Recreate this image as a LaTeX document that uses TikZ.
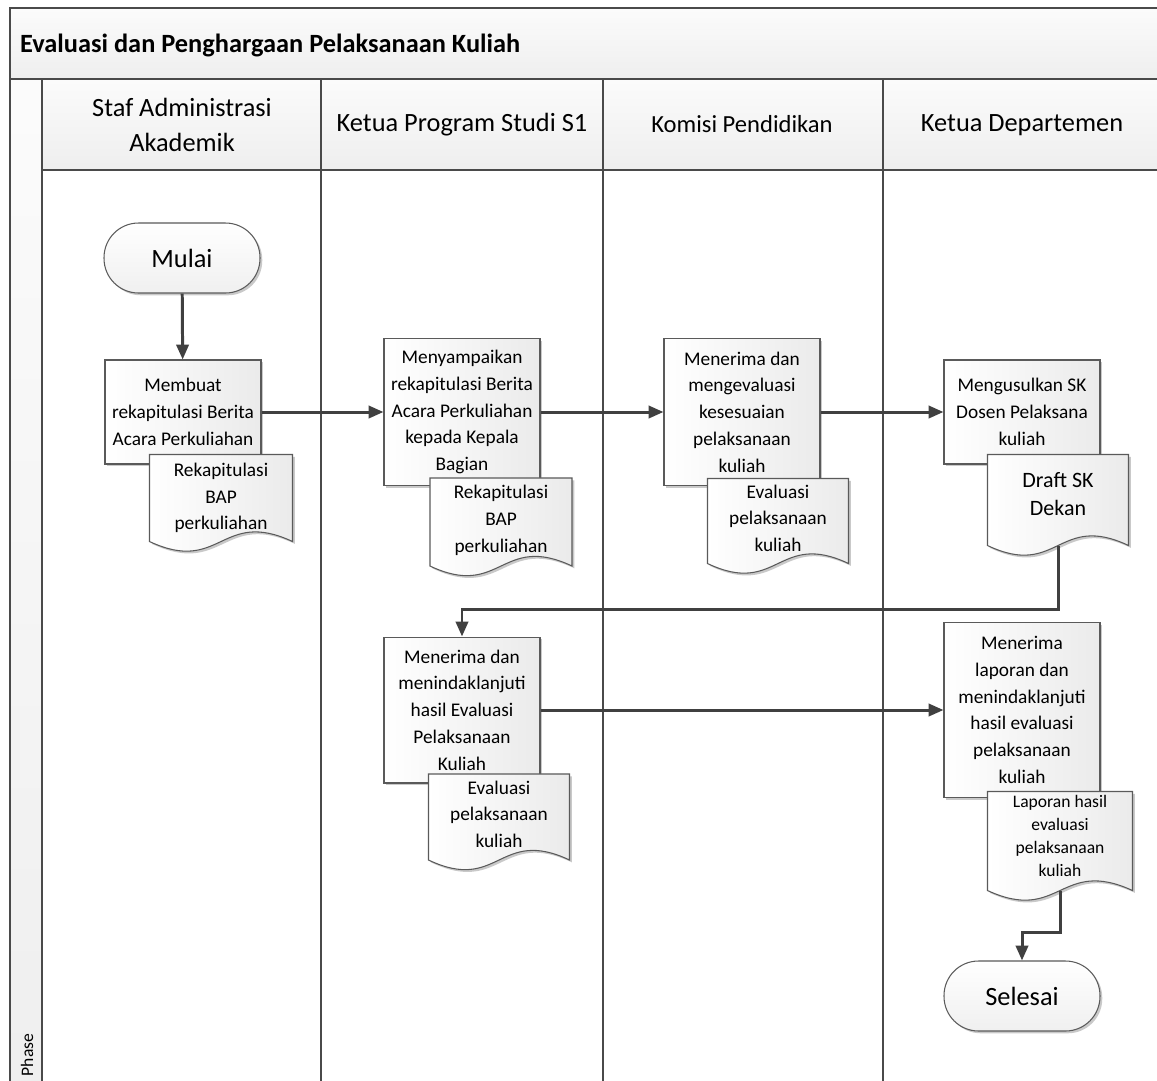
\documentclass[tikz,border=0pt]{standalone}
\usepackage{fontspec}
\setmainfont{Carlito}
\setsansfont{Carlito}
\usetikzlibrary{arrows.meta,shadows,calc}
\makeatletter
\newdimen\dwAmpHi
\newdimen\dwAmpLo
\pgfdeclareshape{docwave}{
  \inheritsavedanchors[from=rectangle]
  \inheritanchorborder[from=rectangle]
  \inheritanchor[from=rectangle]{center}
  \inheritanchor[from=rectangle]{north}
  \inheritanchor[from=rectangle]{south}
  \inheritanchor[from=rectangle]{east}
  \inheritanchor[from=rectangle]{west}
  \inheritanchor[from=rectangle]{north east}
  \inheritanchor[from=rectangle]{north west}
  \inheritanchor[from=rectangle]{south east}
  \inheritanchor[from=rectangle]{south west}
  \inheritanchor[from=rectangle]{text}
  \inheritanchor[from=rectangle]{mid}
  \inheritanchor[from=rectangle]{base}
  \backgroundpath{%
    \southwest \pgf@xa=\pgf@x \pgf@ya=\pgf@y
    \northeast \pgf@xb=\pgf@x \pgf@yb=\pgf@y
    \pgf@xc=.5\pgf@xa \advance\pgf@xc by .5\pgf@xb
    \dwAmpHi=\pgf@ya \advance\dwAmpHi by 19pt
    \dwAmpLo=\pgf@ya \advance\dwAmpLo by -19pt
    \pgfpathmoveto{\pgfqpoint{\pgf@xa}{\pgf@yb}}%
    \pgfpathlineto{\pgfqpoint{\pgf@xb}{\pgf@yb}}%
    \pgfpathlineto{\pgfqpoint{\pgf@xb}{\pgf@ya}}%
    \pgfpathcurveto{\pgfqpoint{\pgf@xc}{\dwAmpHi}}{\pgfqpoint{\pgf@xc}{\dwAmpLo}}{\pgfqpoint{\pgf@xa}{\pgf@ya}}%
    \pgfpathclose
  }
}
\makeatother
\definecolor{lanegray}{HTML}{4A4A4A}
\definecolor{arrgray}{HTML}{404040}
\definecolor{shapeedge}{HTML}{5A5A5A}
\begin{document}
\begin{tikzpicture}[x=0.02cm,y=-0.02cm,
  laneline/.style={draw=lanegray,line width=1.1pt},
  headfill/.style={top color=gray!3,bottom color=gray!13,draw=lanegray,line width=1.1pt},
  headtext/.style={font=\fontsize{15}{20}\selectfont,align=center,text=black},
  procbox/.style={draw=shapeedge,line width=0.6pt,left color=white,right color=gray!16,
     align=center,inner sep=0pt,minimum width=3.12cm,font=\fontsize{11}{15.2}\selectfont,
     drop shadow={shadow xshift=1.3pt,shadow yshift=-1.3pt,opacity=0.35,fill=black!60}},
  docbox/.style={docwave,draw=shapeedge,line width=0.6pt,left color=white,right color=gray!16,
     align=center,inner sep=0pt,font=\fontsize{11}{15.2}\selectfont,
     drop shadow={shadow xshift=1.3pt,shadow yshift=-1.3pt,opacity=0.35,fill=black!60}},
  termbox/.style={draw=shapeedge,line width=0.6pt,top color=white,bottom color=gray!12,
     rounded corners=0.69cm,minimum width=3.12cm,minimum height=1.4cm,inner sep=0pt,
     font=\fontsize{15}{18}\selectfont,
     drop shadow={shadow xshift=1.3pt,shadow yshift=-1.3pt,opacity=0.35,fill=black!60}},
  arr/.style={draw=arrgray,line width=1.7pt,-{Triangle[length=8.5pt,width=7pt]}}
]
\useasboundingbox (0,0) rectangle (1157,1080);
\clip (0,0) rectangle (1157,1080);
\fill[white] (0,0) rectangle (1157,1080);

% pool frame
\path[headfill] (10,8) rectangle (1220,79);
\path[headfill] (10,79) rectangle (42,1120);
\path[headfill] (42,79) rectangle (321,170);
\path[headfill] (321,79) rectangle (603,170);
\path[headfill] (603,79) rectangle (883,170);
\path[headfill] (883,79) rectangle (1220,170);
\draw[laneline] (321,170) -- (321,1120);
\draw[laneline] (603,170) -- (603,1120);
\draw[laneline] (883,170) -- (883,1120);

\node[anchor=west,font=\fontsize{15}{18}\selectfont\bfseries] (title) at (14,45) {Evaluasi dan Penghargaan Pelaksanaan Kuliah};
\node[rotate=90,font=\fontsize{10}{12}\selectfont] (phase) at (27,1055) {Phase};

\node[headtext] (h1) at (182,125) {Staf Administrasi\\Akademik};
\node[headtext] (h2) at (462,125) {Ketua Program Studi S1};
\node[headtext,font=\fontsize{14}{18}\selectfont] (h3) at (742,124) {Komisi Pendidikan};
\node[headtext] (h4) at (1022,125) {Ketua Departemen};

% start
\node[termbox] (mulai) at (182,258) {Mulai};

% lane 1
\node[procbox,minimum height=2.08cm] (b1) at (183,412) {Membuat\\rekapitulasi Berita\\Acara Perkuliahan};
\node[docbox,minimum width=2.84cm,minimum height=1.72cm] (d1) at (221,498) {Rekapitulasi\\BAP\\perkuliahan};

% lane 2
\node[procbox,minimum height=2.94cm] (b2) at (462,412) {Menyampaikan\\rekapitulasi Berita\\Acara Perkuliahan\\kepada Kepala\\Bagian};
\node[docbox,minimum width=2.82cm,minimum height=1.74cm,text depth=3.6pt] (d2) at (501,522) {Rekapitulasi\\BAP\\perkuliahan};

% lane 3
\node[procbox,minimum height=2.94cm] (b3) at (742,412) {Menerima dan\\mengevaluasi\\kesesuaian\\pelaksanaan\\kuliah};
\node[docbox,minimum width=2.8cm,minimum height=1.68cm,text depth=3.4pt] (d3) at (778,521) {Evaluasi\\pelaksanaan\\kuliah};

% lane 4
\node[procbox,minimum height=2.08cm] (b4) at (1022,412) {Mengusulkan SK\\Dosen Pelaksana\\kuliah};
\node[docbox,minimum width=2.8cm,minimum height=1.8cm,text depth=7pt,font=\fontsize{12.5}{16}\selectfont] (d4) at (1058,500) {Draft SK\\Dekan};

% lower row
\node[procbox,minimum height=2.92cm] (b5) at (462,710) {Menerima dan\\menindaklanjuti\\hasil Evaluasi\\Pelaksanaan\\Kuliah};
\node[docbox,minimum width=2.8cm,minimum height=1.7cm,text depth=3.4pt] (d5) at (499,817) {Evaluasi\\pelaksanaan\\kuliah};

\node[procbox,minimum height=3.5cm] (b6) at (1022,710) {Menerima\\laporan dan\\menindaklanjuti\\hasil evaluasi\\pelaksanaan\\kuliah};
\node[docbox,minimum width=2.88cm,minimum height=1.96cm,text depth=6pt,font=\fontsize{10}{13}\selectfont] (d6) at (1060,841) {Laporan hasil\\evaluasi\\pelaksanaan\\kuliah};

\node[termbox] (selesai) at (1022,996) {Selesai};

% connectors
\coordinate (k1) at (1058,609);
\coordinate (k2) at (1060,932);
\draw[arr] (mulai) -- (b1);
\draw[arr] (b1.east) -- (b2.west);
\draw[arr] (b2.east) -- (b3.west);
\draw[arr] (b3.east) -- (b4.west);
\draw[arr] (d4.south) -- (k1) -| (b5.north);
\draw[arr] (b5.east) -- (b6.west);
\draw[arr] (d6.south) -- (k2) -| (selesai.north);
\end{tikzpicture}
\end{document}
